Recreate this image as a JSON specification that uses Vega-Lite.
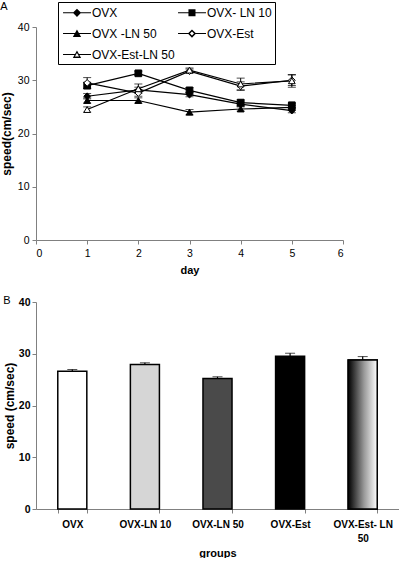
{
  "$schema": "https://vega.github.io/schema/vega-lite/v6.json",
  "background": "white",
  "padding": {"left": 0, "top": 0, "right": 0, "bottom": 0},
  "spacing": 19,
  "resolve": {"scale": {"fill": "independent", "shape": "independent", "x": "independent", "y": "independent"}},
  "config": {
    "font": "Liberation Sans",
    "view": {"stroke": null},
    "axis": {
      "domainColor": "#808080",
      "tickColor": "#808080",
      "grid": false,
      "labelColor": "black",
      "titleColor": "black",
      "labelFont": "Liberation Sans",
      "titleFont": "Liberation Sans",
      "labelFontSize": 10.5,
      "titleFontSize": 11,
      "titleFontWeight": "bold",
      "tickSize": 4
    },
    "title": {"fontSize": 11, "fontWeight": "normal", "anchor": "start", "frame": "bounds", "font": "Liberation Sans"}
  },
  "vconcat": [
    {
      "title": {"text": "A", "offset": -10},
      "width": 307,
      "height": 213,
      "data": {
        "values": [
          {"day": 1, "group": "OVX", "speed": 27.0, "err": 0.5},
          {"day": 2, "group": "OVX", "speed": 28.2, "err": 0.5},
          {"day": 3, "group": "OVX", "speed": 27.3, "err": 0.4},
          {"day": 4, "group": "OVX", "speed": 25.5, "err": 0.4},
          {"day": 5, "group": "OVX", "speed": 24.3, "err": 0.4},
          {"day": 1, "group": "OVX- LN 10", "speed": 29.0, "err": 0.6},
          {"day": 2, "group": "OVX- LN 10", "speed": 31.3, "err": 0.4},
          {"day": 3, "group": "OVX- LN 10", "speed": 28.1, "err": 0.5},
          {"day": 4, "group": "OVX- LN 10", "speed": 25.8, "err": 0.5},
          {"day": 5, "group": "OVX- LN 10", "speed": 25.3, "err": 0.4},
          {"day": 1, "group": "OVX -LN 50", "speed": 26.2, "err": 0.5},
          {"day": 2, "group": "OVX -LN 50", "speed": 26.2, "err": 0.5},
          {"day": 3, "group": "OVX -LN 50", "speed": 24.0, "err": 0.5},
          {"day": 4, "group": "OVX -LN 50", "speed": 24.6, "err": 0.4},
          {"day": 5, "group": "OVX -LN 50", "speed": 24.9, "err": 0.4},
          {"day": 1, "group": "OVX-Est", "speed": 29.5, "err": 1.0},
          {"day": 2, "group": "OVX-Est", "speed": 27.6, "err": 0.6},
          {"day": 3, "group": "OVX-Est", "speed": 31.7, "err": 0.4},
          {"day": 4, "group": "OVX-Est", "speed": 28.9, "err": 0.8},
          {"day": 5, "group": "OVX-Est", "speed": 30.0, "err": 1.0},
          {"day": 1, "group": "OVX-Est-LN 50", "speed": 24.5, "err": 0.5},
          {"day": 2, "group": "OVX-Est-LN 50", "speed": 28.4, "err": 0.9},
          {"day": 3, "group": "OVX-Est-LN 50", "speed": 31.9, "err": 0.4},
          {"day": 4, "group": "OVX-Est-LN 50", "speed": 29.3, "err": 1.1},
          {"day": 5, "group": "OVX-Est-LN 50", "speed": 29.9, "err": 1.2}
        ]
      },
      "encoding": {
        "x": {"field": "day", "type": "quantitative", "scale": {"domain": [0, 6]},
              "axis": {"values": [0, 1, 2, 3, 4, 5, 6], "format": "d", "title": "day", "labelPadding": 4, "titlePadding": 6}},
        "y": {"field": "speed", "type": "quantitative", "scale": {"domain": [0, 40]},
              "axis": {"values": [0, 10, 20, 30, 40], "title": "speed(cm/sec)", "titleFontSize": 12, "titlePadding": 4, "labelPadding": 3}},
        "detail": {"field": "group"}
      },
      "resolve": {"scale": {"shape": "independent"}, "legend": {"shape": "independent"}},
      "layer": [
        {
          "mark": {"type": "errorbar", "ticks": {"size": 8, "color": "black"}, "rule": {"color": "black", "strokeWidth": 1}},
          "encoding": {
            "yError": {"field": "err"}
          }
        },
        {
          "mark": {"type": "line", "color": "black", "strokeWidth": 1.2}
        },
        {
          "mark": {"type": "point", "filled": true, "stroke": "black", "strokeWidth": 1, "size": 45, "opacity": 1},
          "encoding": {
            "fill": {
              "field": "group", "type": "nominal", "legend": null,
              "scale": {"domain": ["OVX", "OVX- LN 10", "OVX -LN 50", "OVX-Est", "OVX-Est-LN 50"],
                        "range": ["black", "black", "black", "white", "white"]}
            },
            "shape": {
              "field": "group", "type": "nominal", "legend": null,
              "scale": {"domain": ["OVX", "OVX- LN 10", "OVX -LN 50", "OVX-Est", "OVX-Est-LN 50"],
                        "range": ["diamond", "square", "triangle-up", "diamond", "triangle-up"]}
            }
          }
        },
        {
          "mark": {"type": "point", "filled": true, "color": "black", "opacity": 0, "size": 225},
          "encoding": {
            "shape": {
              "field": "group", "type": "nominal",
              "scale": {"domain": ["OVX", "OVX- LN 10", "OVX -LN 50", "OVX-Est", "OVX-Est-LN 50"],
                        "range": [
                          "M-0.73,-0.08H0.66V0.08H-0.73Z M1.6,-0.08H3V0.08H1.6Z M1.13,-0.55L1.68,0L1.13,0.55L0.58,0Z",
                          "M-0.73,-0.08H0.7V0.08H-0.73Z M1.56,-0.08H3V0.08H1.56Z M0.66,-0.47H1.6V0.47H0.66Z",
                          "M-0.73,-0.08H0.9V0.08H-0.73Z M1.36,-0.08H3V0.08H1.36Z M1.13,-0.55L1.68,0.45L0.58,0.45Z",
                          "M-0.73,-0.08H0.66V0.08H-0.73Z M1.6,-0.08H3V0.08H1.6Z M1.13,-0.55L1.68,0L1.13,0.55L0.58,0Z M1.13,-0.27L0.86,0L1.13,0.27L1.4,0Z",
                          "M-0.73,-0.08H0.86V0.08H-0.73Z M1.4,-0.08H3V0.08H1.4Z M1.13,-0.55L1.68,0.45L0.58,0.45Z M1.13,-0.2L0.86,0.27L1.4,0.27Z"
                        ]},
              "legend": {
                "orient": "none",
                "legendX": 22,
                "legendY": -25,
                "direction": "horizontal",
                "columns": 2,
                "gridAlign": "all",
                "title": null,
                "strokeColor": "black",
                "fillColor": "white",
                "padding": 3,
                "symbolSize": 225,
                "symbolStrokeWidth": 0,
                "symbolFillColor": "black",
                "symbolOpacity": 1,
                "labelOffset": 16,
                "labelFontSize": 12,
                "labelFont": "Liberation Sans",
                "labelColor": "black",
                "rowPadding": 7,
                "columnPadding": 1
              }
            }
          }
        }
      ]
    },
    {
      "title": {"text": "B", "offset": -9},
      "width": 363,
      "height": 207,
      "data": {
        "values": [
          {"group": "OVX", "speed": 26.6, "err": 0.35},
          {"group": "OVX-LN 10", "speed": 27.9, "err": 0.35},
          {"group": "OVX-LN 50", "speed": 25.2, "err": 0.35},
          {"group": "OVX-Est", "speed": 29.5, "err": 0.6},
          {"group": "OVX-Est- LN 50", "speed": 28.8, "err": 0.65}
        ]
      },
      "encoding": {
        "x": {
          "field": "group", "type": "nominal", "sort": null,
          "scale": {"paddingInner": 0.6, "paddingOuter": 0.3},
          "axis": {"title": "groups", "labelAngle": 0, "labelFontWeight": "bold", "labelFontSize": 10, "tickBand": "extent",
                   "labelPadding": 6, "titlePadding": 4, "labelLineHeight": 14,
                   "labelExpr": "datum.label === 'OVX-Est- LN 50' ? ['OVX-Est- LN', '50'] : datum.label"}
        },
        "y": {
          "field": "speed", "type": "quantitative", "scale": {"domain": [0, 40]},
          "axis": {"values": [0, 10, 20, 30, 40], "title": "speed (cm/sec)", "titleFontSize": 12, "labelFontWeight": "bold", "labelFontSize": 10.5, "titlePadding": 2, "labelPadding": 2}
        }
      },
      "layer": [
        {
          "mark": {"type": "errorbar", "ticks": {"size": 10, "color": "black"}, "rule": {"color": "black", "strokeWidth": 1.2}},
          "encoding": {"yError": {"field": "err"}}
        },
        {
          "mark": {"type": "bar", "stroke": "black", "strokeWidth": 1.5},
          "encoding": {
            "fill": {
              "field": "group", "type": "nominal", "legend": null,
              "scale": {"domain": ["OVX", "OVX-LN 10", "OVX-LN 50", "OVX-Est", "OVX-Est- LN 50"],
                        "range": ["white", "#d6d6d6", "#4a4a4a", "black", "white"]}
            }
          }
        },
        {
          "transform": [{"filter": "datum.group === 'OVX-Est- LN 50'"}],
          "mark": {"type": "bar", "stroke": "black", "strokeWidth": 1.5,
                   "fill": {"gradient": "linear", "x1": 0, "x2": 1, "y1": 0, "y2": 0,
                            "stops": [{"offset": 0, "color": "black"}, {"offset": 0.55, "color": "#9a9a9a"}, {"offset": 1, "color": "white"}]}}
        }
      ]
    }
  ]
}
